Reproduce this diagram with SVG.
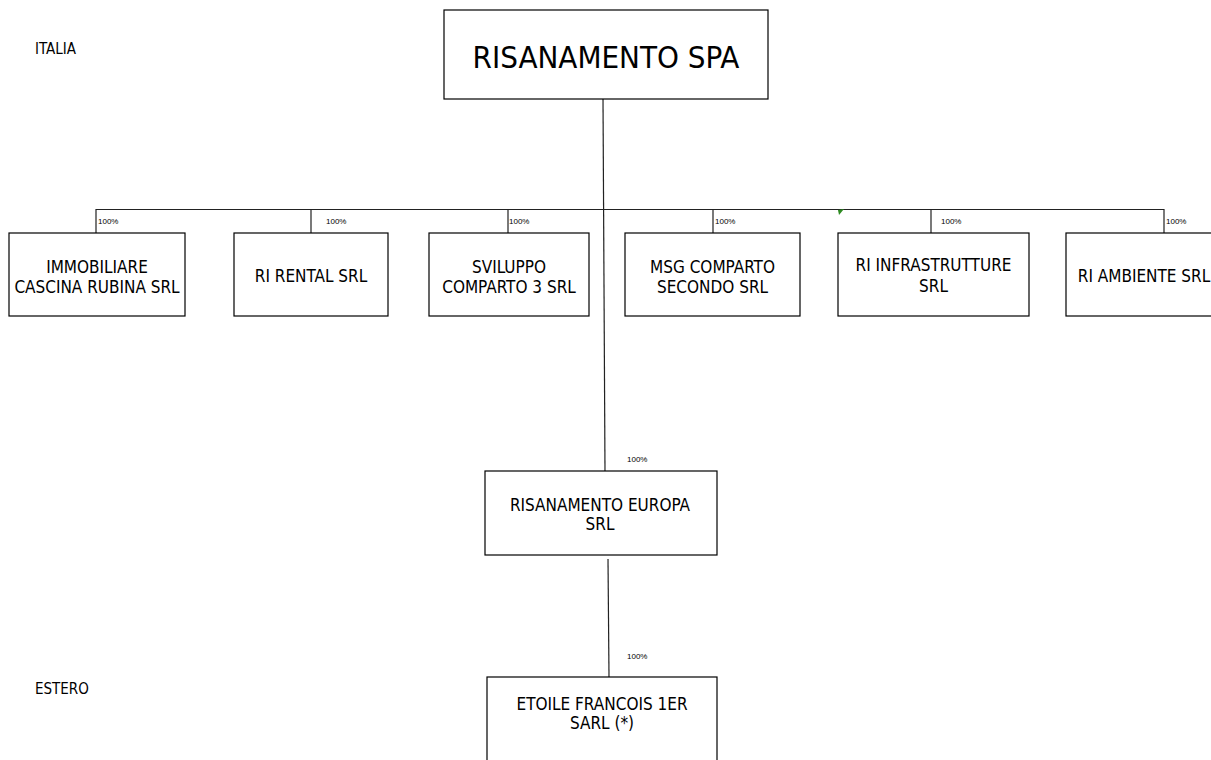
<svg xmlns="http://www.w3.org/2000/svg" width="1211" height="760" viewBox="0 0 1211 760">
<style>
.box{fill:#fff;stroke:#000;stroke-width:1.2}
.t{font-family:"DejaVu Sans Condensed","DejaVu Sans",sans-serif;font-stretch:condensed;font-size:17px;fill:#000;text-anchor:middle}
.pct{font-family:"Liberation Sans",Arial,sans-serif;font-size:8px;fill:#000}
.lbl{font-family:"DejaVu Sans Condensed","DejaVu Sans",sans-serif;font-stretch:condensed;font-size:15px;fill:#000}
.ln{stroke:#222;stroke-width:1.2;fill:none}
</style>
<rect width="1211" height="760" fill="#fff"/>
<text class="lbl" x="35" y="54">ITALIA</text>
<text class="lbl" x="35" y="694">ESTERO</text>
<g id="connectors">
<path class="ln" d="M603,99L605,471"/>
<path class="ln" d="M96,209.5H1164"/>
<path class="ln" d="M96,209V233M311,209V233M508,209V233M713,209V233M931,209V233M1164,209V233"/>
<path class="ln" d="M608,559L609,677"/>
<polygon points="838,210 844,209 839,215" fill="#2e8b22"/>
<text class="pct" x="98" y="224">100%</text>
<text class="pct" x="326" y="224">100%</text>
<text class="pct" x="509" y="224">100%</text>
<text class="pct" x="715" y="224">100%</text>
<text class="pct" x="941" y="224">100%</text>
<text class="pct" x="1166" y="224">100%</text>
<text class="pct" x="627" y="462">100%</text>
<text class="pct" x="627" y="659">100%</text>
</g>
<g id="risanamento-spa">
<rect class="box" x="444" y="10" width="324" height="89"/>
<text class="t" x="606" y="68" style="font-size:31px">RISANAMENTO SPA</text>
</g>
<g id="immobiliare">
<rect class="box" x="9" y="233" width="176" height="83"/>
<text class="t" x="97" y="272.5">IMMOBILIARE</text>
<text class="t" x="97" y="292.5">CASCINA RUBINA SRL</text>
</g>
<g id="ri-rental">
<rect class="box" x="234" y="233" width="154" height="83"/>
<text class="t" x="311" y="282">RI RENTAL SRL</text>
</g>
<g id="sviluppo">
<rect class="box" x="429" y="233" width="160" height="83"/>
<text class="t" x="509" y="272.5">SVILUPPO</text>
<text class="t" x="509" y="292.5">COMPARTO 3 SRL</text>
</g>
<g id="msg">
<rect class="box" x="625" y="233" width="175" height="83"/>
<text class="t" x="712.5" y="272.5">MSG COMPARTO</text>
<text class="t" x="712.5" y="292.5">SECONDO SRL</text>
</g>
<g id="ri-infrastrutture">
<rect class="box" x="838" y="233" width="191" height="83"/>
<text class="t" x="933.5" y="271">RI INFRASTRUTTURE</text>
<text class="t" x="933.5" y="292">SRL</text>
</g>
<g id="ri-ambiente">
<rect class="box" x="1066" y="233" width="160" height="83"/>
<text class="t" x="1144" y="282">RI AMBIENTE SRL</text>
</g>
<g id="risanamento-europa">
<rect class="box" x="485" y="471" width="232" height="84"/>
<text class="t" x="600" y="511">RISANAMENTO EUROPA</text>
<text class="t" x="600" y="530">SRL</text>
</g>
<g id="etoile">
<rect class="box" x="487" y="677" width="230" height="100"/>
<text class="t" x="602" y="710">ETOILE FRANCOIS 1ER</text>
<text class="t" x="602" y="729">SARL (*)</text>
</g>
</svg>
